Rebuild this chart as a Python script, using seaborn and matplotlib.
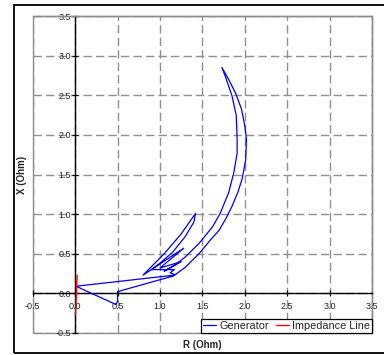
import matplotlib
matplotlib.use("Agg")
import matplotlib.pyplot as plt
from matplotlib.patches import Rectangle
import seaborn as sns
import pandas as pd

# Generator impedance trajectory (R, X) in Ohm
gen_r = [1.17, 0.01, 0.48, 0.50, 0.50, 0.56, 1.16,
         1.30, 1.46, 1.60, 1.70, 1.78, 1.85, 1.92, 1.97, 2.01, 2.02, 2.00, 1.96, 1.89, 1.81, 1.73,
         1.77, 1.85, 1.90, 1.91, 1.91, 1.87, 1.81, 1.71, 1.62, 1.46, 1.30, 1.18,
         1.05, 1.25, 1.00, 1.28, 0.80,
         1.05, 1.25, 1.42, 1.40, 1.30, 1.15, 1.00, 0.90, 1.17, 1.12, 1.17]
gen_x = [0.23, 0.09, -0.14, -0.10, 0.02, 0.04, 0.22,
         0.33, 0.50, 0.68, 0.80, 0.95, 1.10, 1.28, 1.45, 1.68, 1.94, 2.12, 2.33, 2.53, 2.70, 2.85,
         2.74, 2.49, 2.24, 1.94, 1.77, 1.52, 1.27, 1.01, 0.84, 0.63, 0.46, 0.36,
         0.28, 0.40, 0.32, 0.57, 0.23,
         0.50, 0.75, 1.01, 0.90, 0.72, 0.52, 0.38, 0.30, 0.30, 0.26, 0.24]

# Impedance line
imp_r = [0.004, 0.024]
imp_x = [-0.27, 0.23]

ticks = [-0.5, 0.0, 0.5, 1.0, 1.5, 2.0, 2.5, 3.0, 3.5]
tick_labels = ["-0.5", "0.0", "0.5", "1.0", "1.5", "2.0", "2.5", "3.0", "3.5"]

sns.set_style("white")
plt.rcParams["font.family"] = ["Liberation Sans", "DejaVu Sans"]

fig = plt.figure(figsize=(3.84, 3.55), dpi=100)
ax = fig.add_axes([32.7 / 384, 1 - 333 / 355, (372 - 32.7) / 384, (333 - 16) / 355])

gen_df = pd.DataFrame({"R": gen_r, "X": gen_x})
imp_df = pd.DataFrame({"R": imp_r, "X": imp_x})

sns.lineplot(data=gen_df, x="R", y="X", sort=False, estimator=None, color="#0000FF",
             lw=0.9, ax=ax, label="Generator", zorder=4)
sns.lineplot(data=imp_df, x="R", y="X", sort=False, estimator=None, color="#FF0000",
             lw=1.0, ax=ax, label="Impedance Line", zorder=5)

ax.set_xlim(-0.5, 3.5)
ax.set_ylim(-0.5, 3.5)
ax.set_xticks(ticks)
ax.set_xticklabels(tick_labels)
ax.set_yticks(ticks)
ax.set_yticklabels(tick_labels)

ax.grid(True, color="#909090", linestyle=(0, (6, 3)), linewidth=1.0)
ax.set_axisbelow(True)

# spines through the origin
ax.spines["left"].set_position(("data", 0))
ax.spines["bottom"].set_position(("data", 0))
ax.spines["left"].set_color("black")
ax.spines["bottom"].set_color("black")
ax.spines["left"].set_linewidth(1.0)
ax.spines["bottom"].set_linewidth(1.0)
for s in ["top", "right"]:
    ax.spines[s].set_color("#8c8c8c")
    ax.spines[s].set_linewidth(1.0)
ax.add_patch(Rectangle((0, 0), 1, 1, transform=ax.transAxes, fill=False,
                       edgecolor="#8c8c8c", lw=1.0, clip_on=False, zorder=0.5))

ax.tick_params(axis="both", which="both", direction="inout", length=4, width=0.8,
               color="black", labelsize=6.5, labelcolor="#222222")
ax.tick_params(axis="y", pad=1, left=True)
ax.tick_params(axis="x", pad=4, bottom=True)

ax.set_xlabel("")
ax.set_ylabel("")
fig.text((32.7 + 372) / 2 / 384, 1 - 345 / 355, "R (Ohm)", ha="center", va="center",
         fontsize=7, fontweight="bold")
fig.text(22 / 384, 1 - 175 / 355, "X (Ohm)", ha="center", va="center", rotation=90,
         fontsize=7, fontweight="bold")

leg = ax.legend(loc="lower right", bbox_to_anchor=(1.0, 0.0), borderaxespad=0.0, ncol=2,
                fontsize=7.8, frameon=True, fancybox=False, handlelength=1.2,
                handletextpad=0.3, columnspacing=0.6, borderpad=0.2)
leg.get_frame().set_edgecolor("black")
leg.get_frame().set_linewidth(0.9)
leg.get_frame().set_facecolor("white")
leg.get_frame().set_alpha(1.0)

# outer chart frame
fig.patches.append(Rectangle((14 / 384, 1 - 353 / 355), 1.2, (353 - 5) / 355,
                             transform=fig.transFigure, fill=False, edgecolor="black",
                             lw=1.3, figure=fig))

fig.savefig("out.png", dpi=100)
